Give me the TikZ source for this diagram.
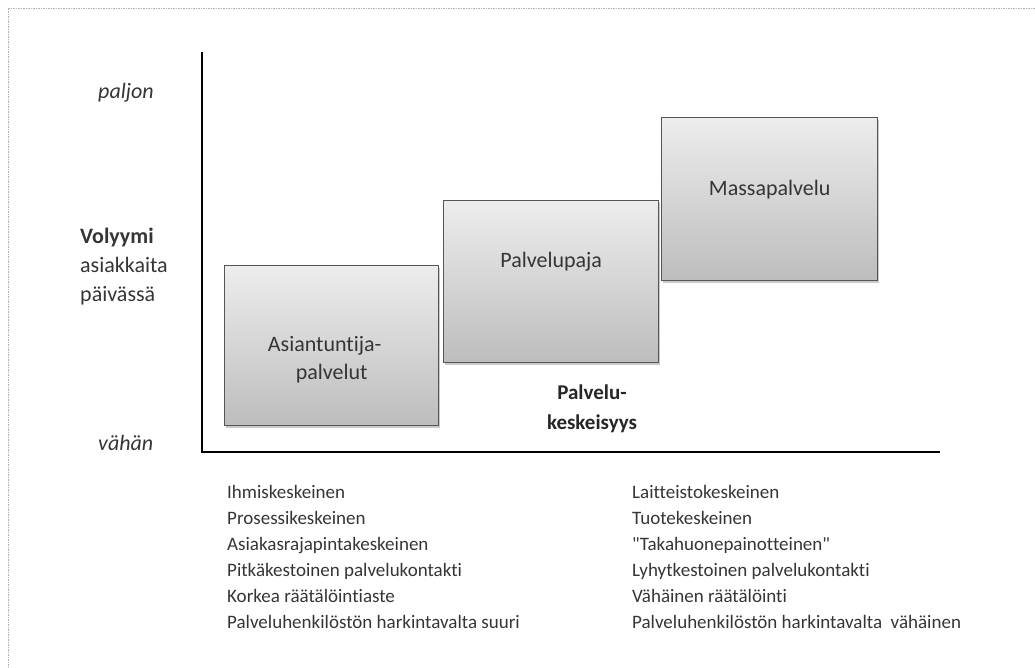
\documentclass[tikz,border=0pt]{standalone}
\usepackage{fontspec}
\setmainfont{Carlito}[Ligatures=NoCommon]
\usetikzlibrary{shadows}
\definecolor{boxtop}{HTML}{EDEDED}
\definecolor{boxbot}{HTML}{BDBDBD}
\definecolor{boxline}{HTML}{555555}
\definecolor{txt}{HTML}{353535}
\tikzset{
  stage/.style={draw=boxline, line width=1.4pt, top color=boxtop, bottom color=boxbot,
    anchor=north west, inner sep=0pt, font=\fontsize{22}{27}\selectfont, text=txt,
    drop shadow={shadow xshift=1.5pt, shadow yshift=-2pt, opacity=0.35, fill=black!60}},
  axis/.style={line width=2.6pt, black},
  scale label/.style={font=\fontsize{22}{26}\selectfont\itshape, text=txt, anchor=west, inner sep=0pt},
  side label/.style={font=\fontsize{22}{29}\selectfont, text=txt, align=left, anchor=north west, inner sep=0pt},
  traits/.style={font=\fontsize{19}{26}\selectfont, text=txt, align=left, anchor=north west, inner sep=0pt},
}
\begin{document}
\begin{tikzpicture}[x=1pt,y=-1pt]
  \useasboundingbox (0,0) rectangle (1035,668);
  % frame
  \draw[gray!60, line width=0.8pt, dash pattern=on 1.5pt off 1pt] (8,668) -- (8,8) -- (1035,8);

  % axes
  \coordinate (ytop) at (202,52);
  \coordinate (origin) at (202,452);
  \coordinate (xend) at (940,452);
  \draw[axis] (ytop) -- (origin) -- (xend);

  % service types
  \node[stage, minimum width=214pt, minimum height=160pt] (expert) at (224,265) {};
  \node[stage, minimum width=215pt, minimum height=162pt] (shop) at (443,200) {};
  \node[stage, minimum width=216pt, minimum height=163pt] (mass) at (661,117) {};
  \node[font=\fontsize{22}{28}\selectfont, text=txt, align=center] (expertlbl) at ([xshift=-7pt, yshift=-14pt]expert.center)
    {Asiantuntija-\\\hspace*{14pt}palvelut};
  \node[font=\fontsize{22}{27}\selectfont, text=txt] (shoplbl) at ([yshift=20pt]shop.center) {Palvelupaja};
  \node[font=\fontsize{22}{27}\selectfont, text=txt] (masslbl) at ([yshift=10pt]mass.center) {Massapalvelu};

  % axis labels
  \node[scale label] (high) at (98,93) {paljon};
  \node[scale label] (low) at (98,443) {vähän};
  \node[side label] (vol) at (80,228) {\textbf{Volyymi}\\asiakkaita\\päivässä};
  \node[font=\fontsize{21}{30}\selectfont\bfseries, text=black!85, align=center] (focus) at (592,409)
    {Palvelu-\\keskeisyys};

  % characteristics
  \node[traits] (left) at (227,485) {Ihmiskeskeinen\\Prosessikeskeinen\\Asiakasrajapintakeskeinen\\Pitkäkestoinen palvelukontakti\\Korkea räätälöintiaste\\Palveluhenkilöstön harkintavalta suuri};
  \node[traits] (right) at (632,485) {Laitteistokeskeinen\\Tuotekeskeinen\\\textquotedbl Takahuonepainotteinen\textquotedbl\\Lyhytkestoinen palvelukontakti\\Vähäinen räätälöinti\\Palveluhenkilöstön harkintavalta\ \ vähäinen};
\end{tikzpicture}
\end{document}
